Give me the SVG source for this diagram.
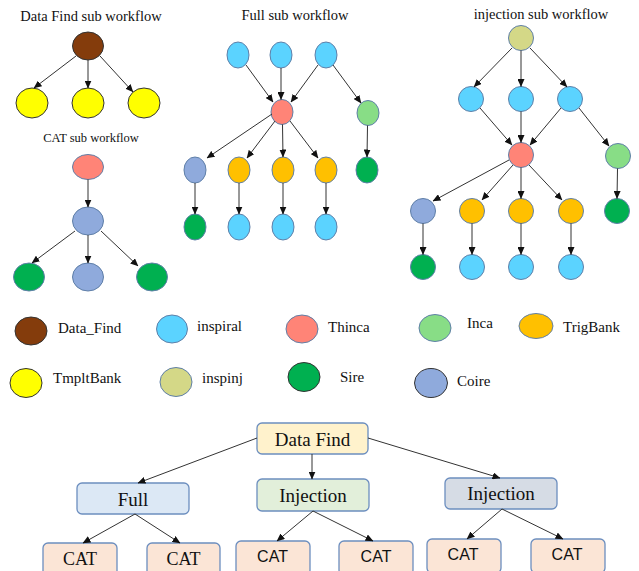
<svg xmlns="http://www.w3.org/2000/svg" width="639" height="571" viewBox="0 0 639 571">
  <defs>
    <marker id="arrow" markerUnits="userSpaceOnUse" markerWidth="8" markerHeight="7" refX="7.5" refY="3.5" orient="auto">
      <path d="M0,0 L8,3.5 L0,7 z" fill="#111"/>
    </marker>
    <style>
      text { font-family: "Liberation Serif", "Times New Roman", serif; fill: #111; }
      .title { font-size: 14.5px; text-anchor: middle; }
      .small { font-size: 12.5px; }
      .leg { font-size: 15px; }
      .box { stroke: #6c8ebf; stroke-width: 1.3; }
      .blab { font-size: 19px; text-anchor: middle; }
      .sans { font-family: "Liberation Sans", Arial, sans-serif; font-size: 16px; text-anchor: middle; }
      .edge { stroke: #333; stroke-width: 1; fill: none; marker-end: url(#arrow); }
      .n { stroke: #5f7fa8; stroke-width: 1; }
      .dk { stroke: #333; stroke-width: 1; }
      .datafind { fill: #843c0c; }
      .tmplt { fill: #ffff00; }
      .inspiral { fill: #5bd3ff; }
      .thinca { fill: #ff8477; }
      .inca { fill: #88dd86; }
      .trig { fill: #ffc000; }
      .inspinj { fill: #d4d887; }
      .sire { fill: #00b050; }
      .coire { fill: #8faadc; }
    </style>
  </defs>

  <!-- sub workflow titles -->
  <text class="title" x="91" y="21">Data Find sub workflow</text>
  <text class="title small" x="91" y="142">CAT sub workflow</text>
  <text class="title" x="295" y="20">Full  sub workflow</text>
  <text class="title" x="541" y="19">injection  sub workflow</text>

  <!-- Data Find sub workflow nodes -->
  <g id="df-root"><ellipse class="datafind dk" cx="88" cy="46" rx="15.5" ry="14"/></g>
  <g id="df-t1"><ellipse class="tmplt dk" cx="32" cy="103" rx="16" ry="15"/></g>
  <g id="df-t2"><ellipse class="tmplt dk" cx="88" cy="103" rx="16" ry="15"/></g>
  <g id="df-t3"><ellipse class="tmplt dk" cx="144" cy="103" rx="16" ry="15"/></g>

  <!-- CAT sub workflow nodes -->
  <g id="cat-thinca"><ellipse class="thinca n" cx="88" cy="167" rx="15.5" ry="12.5"/></g>
  <g id="cat-coire"><ellipse class="coire n" cx="88" cy="221" rx="15.5" ry="14"/></g>
  <g id="cat-sire1"><ellipse class="sire n" cx="29" cy="277" rx="15.5" ry="14"/></g>
  <g id="cat-coire2"><ellipse class="coire n" cx="88" cy="277" rx="15.5" ry="14"/></g>
  <g id="cat-sire2"><ellipse class="sire n" cx="152" cy="277" rx="15.5" ry="14"/></g>

  <!-- Full sub workflow nodes -->
  <g id="full-insp1"><ellipse class="inspiral n" cx="238" cy="55" rx="11" ry="13"/></g>
  <g id="full-insp2"><ellipse class="inspiral n" cx="281" cy="55" rx="11" ry="13"/></g>
  <g id="full-insp3"><ellipse class="inspiral n" cx="326" cy="55" rx="11" ry="13"/></g>
  <g id="full-thinca"><ellipse class="thinca n" cx="282" cy="112" rx="11" ry="12.5"/></g>
  <g id="full-inca"><ellipse class="inca n" cx="368" cy="113" rx="11" ry="12.5"/></g>
  <g id="full-coire"><ellipse class="coire n" cx="195" cy="170" rx="11" ry="13"/></g>
  <g id="full-trig1"><ellipse class="trig n" cx="239" cy="170" rx="11" ry="13"/></g>
  <g id="full-trig2"><ellipse class="trig n" cx="283" cy="170" rx="11" ry="13"/></g>
  <g id="full-trig3"><ellipse class="trig n" cx="326" cy="170" rx="11" ry="13"/></g>
  <g id="full-sire"><ellipse class="sire n" cx="367" cy="170" rx="11" ry="13"/></g>
  <g id="full-sire2"><ellipse class="sire n" cx="195" cy="227" rx="11" ry="13"/></g>
  <g id="full-insp4"><ellipse class="inspiral n" cx="239" cy="227" rx="11" ry="13"/></g>
  <g id="full-insp5"><ellipse class="inspiral n" cx="283" cy="227" rx="11" ry="13"/></g>
  <g id="full-insp6"><ellipse class="inspiral n" cx="326" cy="227" rx="11" ry="13"/></g>

  <!-- injection sub workflow nodes -->
  <g id="inj-inspinj"><ellipse class="inspinj n" cx="521" cy="38" rx="12.5" ry="12.5"/></g>
  <g id="inj-insp1"><ellipse class="inspiral n" cx="471" cy="99" rx="12.5" ry="12.5"/></g>
  <g id="inj-insp2"><ellipse class="inspiral n" cx="521" cy="99" rx="12.5" ry="12.5"/></g>
  <g id="inj-insp3"><ellipse class="inspiral n" cx="570" cy="99" rx="12.5" ry="12.5"/></g>
  <g id="inj-thinca"><ellipse class="thinca n" cx="521" cy="155" rx="12.5" ry="12.5"/></g>
  <g id="inj-inca"><ellipse class="inca n" cx="618" cy="156" rx="12.5" ry="12.5"/></g>
  <g id="inj-coire"><ellipse class="coire n" cx="423" cy="211" rx="12.5" ry="12.5"/></g>
  <g id="inj-trig1"><ellipse class="trig n" cx="472" cy="211" rx="12.5" ry="12.5"/></g>
  <g id="inj-trig2"><ellipse class="trig n" cx="521" cy="211" rx="12.5" ry="12.5"/></g>
  <g id="inj-trig3"><ellipse class="trig n" cx="571" cy="211" rx="12.5" ry="12.5"/></g>
  <g id="inj-sire"><ellipse class="sire n" cx="617" cy="211" rx="12.5" ry="12.5"/></g>
  <g id="inj-sire2"><ellipse class="sire n" cx="423" cy="267" rx="12.5" ry="12.5"/></g>
  <g id="inj-insp4"><ellipse class="inspiral n" cx="472" cy="267" rx="12.5" ry="12.5"/></g>
  <g id="inj-insp5"><ellipse class="inspiral n" cx="521" cy="267" rx="12.5" ry="12.5"/></g>
  <g id="inj-insp6"><ellipse class="inspiral n" cx="571" cy="267" rx="12.5" ry="12.5"/></g>

  <!-- legend -->
  <g id="legend">
    <ellipse class="datafind dk" cx="31" cy="331" rx="16" ry="14"/>
    <text class="leg" x="58" y="333">Data_Find</text>
    <ellipse class="inspiral n" cx="172" cy="329" rx="15.5" ry="14"/>
    <text class="leg" x="197" y="331">inspiral</text>
    <ellipse class="thinca n" cx="302" cy="329" rx="16" ry="14"/>
    <text class="leg" x="328" y="332">Thinca</text>
    <ellipse class="inca n" cx="435" cy="328" rx="16" ry="13.5"/>
    <text class="leg" x="467" y="328">Inca</text>
    <ellipse class="trig n" cx="536" cy="326" rx="17" ry="12.5"/>
    <text class="leg" x="563" y="332">TrigBank</text>
    <ellipse class="tmplt dk" cx="26" cy="383" rx="16" ry="14.5"/>
    <text class="leg" x="53" y="383">TmpltBank</text>
    <ellipse class="inspinj n" cx="176" cy="382" rx="16" ry="14.5"/>
    <text class="leg" x="202" y="383">inspinj</text>
    <ellipse class="sire dk" cx="304" cy="377" rx="16" ry="14.5"/>
    <text class="leg" x="340" y="382">Sire</text>
    <ellipse class="coire dk" cx="431" cy="383" rx="16.5" ry="14.5"/>
    <text class="leg" x="457" y="386">Coire</text>
  </g>

  <!-- workflow tree boxes -->
  <g id="tree-datafind">
    <rect class="box" x="257" y="423" width="111" height="31" rx="5" fill="#fff2cc"/>
    <text class="blab" x="312.5" y="446">Data Find</text>
  </g>
  <g id="tree-full">
    <rect class="box" x="77" y="483" width="112" height="31" rx="5" fill="#dce8f5"/>
    <text class="blab" x="133" y="506">Full</text>
  </g>
  <g id="tree-injection1">
    <rect class="box" x="257" y="479" width="112" height="32" rx="5" fill="#e2efda"/>
    <text class="blab" x="313" y="502">Injection</text>
  </g>
  <g id="tree-injection2">
    <rect class="box" x="445" y="478" width="112" height="31" rx="5" fill="#d6dce5"/>
    <text class="blab" x="501" y="500">Injection</text>
  </g>
  <g id="tree-cat1">
    <rect class="box" x="43" y="543" width="74" height="34" rx="5" fill="#fbe5d6"/>
    <text class="blab" x="80" y="565" style="font-size:18px">CAT</text>
  </g>
  <g id="tree-cat2">
    <rect class="box" x="147" y="543" width="73" height="34" rx="5" fill="#fbe5d6"/>
    <text class="blab" x="183.5" y="565" style="font-size:18px">CAT</text>
  </g>
  <g id="tree-cat3">
    <rect class="box" x="236" y="541" width="74" height="34" rx="5" fill="#fbe5d6"/>
    <text class="sans" x="272.5" y="562">CAT</text>
  </g>
  <g id="tree-cat4">
    <rect class="box" x="339" y="541" width="74" height="34" rx="5" fill="#fbe5d6"/>
    <text class="sans" x="376" y="562">CAT</text>
  </g>
  <g id="tree-cat5">
    <rect class="box" x="427" y="539" width="74" height="34" rx="5" fill="#fbe5d6"/>
    <text class="sans" x="463" y="560">CAT</text>
  </g>
  <g id="tree-cat6">
    <rect class="box" x="531" y="539" width="74" height="34" rx="5" fill="#fbe5d6"/>
    <text class="sans" x="567" y="560">CAT</text>
  </g>

  <!-- connectors -->
  <g id="connectors">
    <!-- Data Find sub workflow -->
    <line class="edge" x1="76" y1="56" x2="34" y2="88"/>
    <line class="edge" x1="88" y1="60" x2="88" y2="88"/>
    <line class="edge" x1="100" y1="56" x2="133" y2="92"/>
    <!-- CAT sub workflow -->
    <line class="edge" x1="88" y1="179.5" x2="88" y2="207"/>
    <line class="edge" x1="75" y1="231" x2="32" y2="263"/>
    <line class="edge" x1="88" y1="235" x2="88" y2="263"/>
    <line class="edge" x1="101" y1="231" x2="138" y2="266"/>
    <!-- Full sub workflow -->
    <line class="edge" x1="246" y1="65" x2="273" y2="102"/>
    <line class="edge" x1="281" y1="68" x2="281" y2="99.5"/>
    <line class="edge" x1="318" y1="65" x2="291" y2="102"/>
    <line class="edge" x1="333" y1="65" x2="361" y2="103"/>
    <line class="edge" x1="272" y1="114" x2="207" y2="158"/>
    <line class="edge" x1="275" y1="121" x2="247" y2="158"/>
    <line class="edge" x1="282.5" y1="124.5" x2="283" y2="157"/>
    <line class="edge" x1="290" y1="121" x2="318" y2="158"/>
    <line class="edge" x1="367.5" y1="125.5" x2="367" y2="157"/>
    <line class="edge" x1="195" y1="183" x2="195" y2="214"/>
    <line class="edge" x1="239" y1="183" x2="239" y2="214"/>
    <line class="edge" x1="283" y1="183" x2="283" y2="214"/>
    <line class="edge" x1="326" y1="183" x2="326" y2="214"/>
    <!-- injection sub workflow -->
    <line class="edge" x1="512" y1="48" x2="474" y2="87"/>
    <line class="edge" x1="521" y1="50.5" x2="521" y2="86.5"/>
    <line class="edge" x1="530" y1="48" x2="567" y2="87"/>
    <line class="edge" x1="480" y1="108" x2="512" y2="145"/>
    <line class="edge" x1="521" y1="111.5" x2="521" y2="142.5"/>
    <line class="edge" x1="561" y1="108" x2="530" y2="145"/>
    <line class="edge" x1="579" y1="108" x2="609" y2="146"/>
    <line class="edge" x1="509" y1="160" x2="433" y2="201"/>
    <line class="edge" x1="513" y1="165" x2="482" y2="200"/>
    <line class="edge" x1="521" y1="167.5" x2="521" y2="198.5"/>
    <line class="edge" x1="529" y1="165" x2="562" y2="200"/>
    <line class="edge" x1="617.5" y1="168.5" x2="617" y2="198.5"/>
    <line class="edge" x1="423" y1="223.5" x2="423" y2="254.5"/>
    <line class="edge" x1="472" y1="223.5" x2="472" y2="254.5"/>
    <line class="edge" x1="521" y1="223.5" x2="521" y2="254.5"/>
    <line class="edge" x1="571" y1="223.5" x2="571" y2="254.5"/>
    <!-- workflow tree -->
    <line class="edge" x1="257" y1="438" x2="138" y2="483"/>
    <line class="edge" x1="312" y1="454" x2="312" y2="479"/>
    <line class="edge" x1="368" y1="438" x2="500" y2="478"/>
    <line class="edge" x1="135" y1="514" x2="83" y2="543"/>
    <line class="edge" x1="135" y1="514" x2="180" y2="543"/>
    <line class="edge" x1="313" y1="511" x2="277" y2="541"/>
    <line class="edge" x1="313" y1="511" x2="373" y2="541"/>
    <line class="edge" x1="502" y1="509" x2="467" y2="539"/>
    <line class="edge" x1="502" y1="509" x2="563" y2="539"/>
  </g>
</svg>
